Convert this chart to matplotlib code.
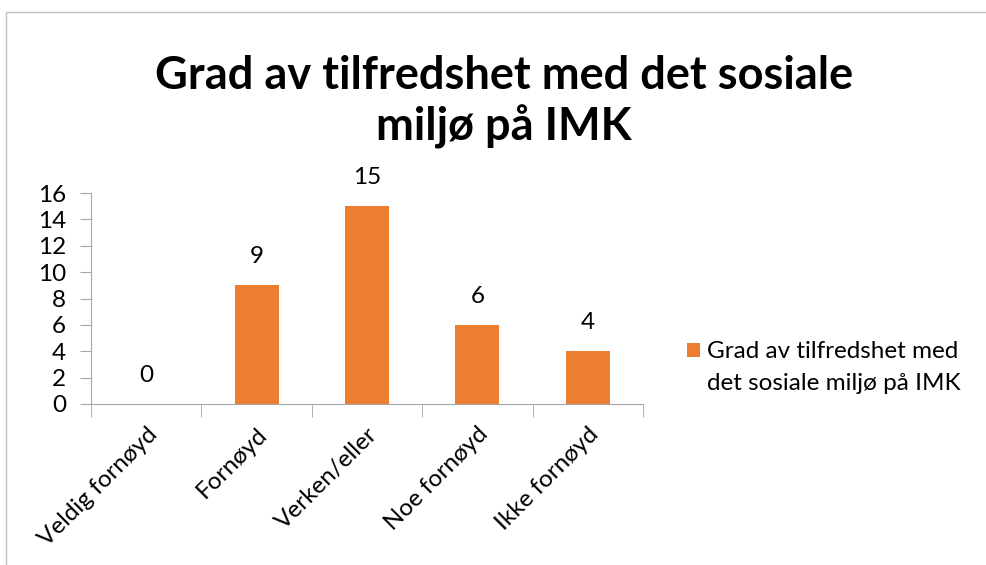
import matplotlib
matplotlib.use("Agg")
import matplotlib.pyplot as plt
from matplotlib.patches import Rectangle

categories = ["Veldig fornøyd", "Fornøyd", "Verken/eller", "Noe fornøyd", "Ikke fornøyd"]
values = [0, 9, 15, 6, 4]
series_name = "Grad av tilfredshet med\ndet sosiale miljø på IMK"
title = "Grad av tilfredshet med det sosiale\nmiljø på IMK"
yticks = [0, 2, 4, 6, 8, 10, 12, 14, 16]

plt.rcParams['font.family'] = ['Lato', 'DejaVu Sans']
orange = "#ED7D31"
axis_gray = "#A6A6A6"
fs = 17.5
W, H = 986, 565

fig = plt.figure(figsize=(9.86, 5.65), dpi=100)
fig.patches.append(Rectangle((6/W, -0.01), 2, 1.01 - 12/H, transform=fig.transFigure,
                             fill=False, edgecolor="#BFBFBF", linewidth=1.0))

ax = fig.add_axes([91/W, 1 - 404/H, (643-91)/W, (404-193)/H])
x = list(range(len(categories)))
bars = ax.bar(x, values, width=0.4, color=orange, label=series_name)
ax.set_xlim(-0.5, len(categories) - 0.5)
ax.set_ylim(0, 16)
ax.set_yticks(yticks)
ax.set_yticklabels([str(v) for v in yticks], fontsize=fs)
ax.set_xticks(x)
ax.set_xticklabels(categories, fontsize=fs, rotation=45, ha='right', rotation_mode='anchor')
ax.tick_params(axis='x', length=0, pad=14)
ax.tick_params(axis='y', length=8, color=axis_gray, pad=10)
ax.set_xticks([i - 0.5 for i in range(len(categories) + 1)], minor=True)
ax.tick_params(axis='x', which='minor', length=9, color=axis_gray)
for s in ['top', 'right']:
    ax.spines[s].set_visible(False)
ax.spines['left'].set_color(axis_gray)
ax.spines['bottom'].set_color(axis_gray)

for xi, v in zip(x, values):
    ax.annotate(str(v), (xi, v), xytext=(0, 13), textcoords='offset points',
                ha='center', va='bottom', fontsize=fs)

fig.text(504/W, 1 - 102/H, title, ha='center', va='center', fontsize=32.5,
         fontweight='bold', linespacing=1.22)

# legend: swatch aligned with first text line (as in the reference)
fig.patches.append(Rectangle((687/W, 1 - 357/H), 13/W, 14/H, transform=fig.transFigure,
                             facecolor=orange, edgecolor='none'))
for i, line in enumerate(series_name.split("\n")):
    fig.text(707/W, 1 - (351 + 32 * i)/H, line, ha='left', va='center', fontsize=fs)

fig.savefig("out.png", dpi=100)
